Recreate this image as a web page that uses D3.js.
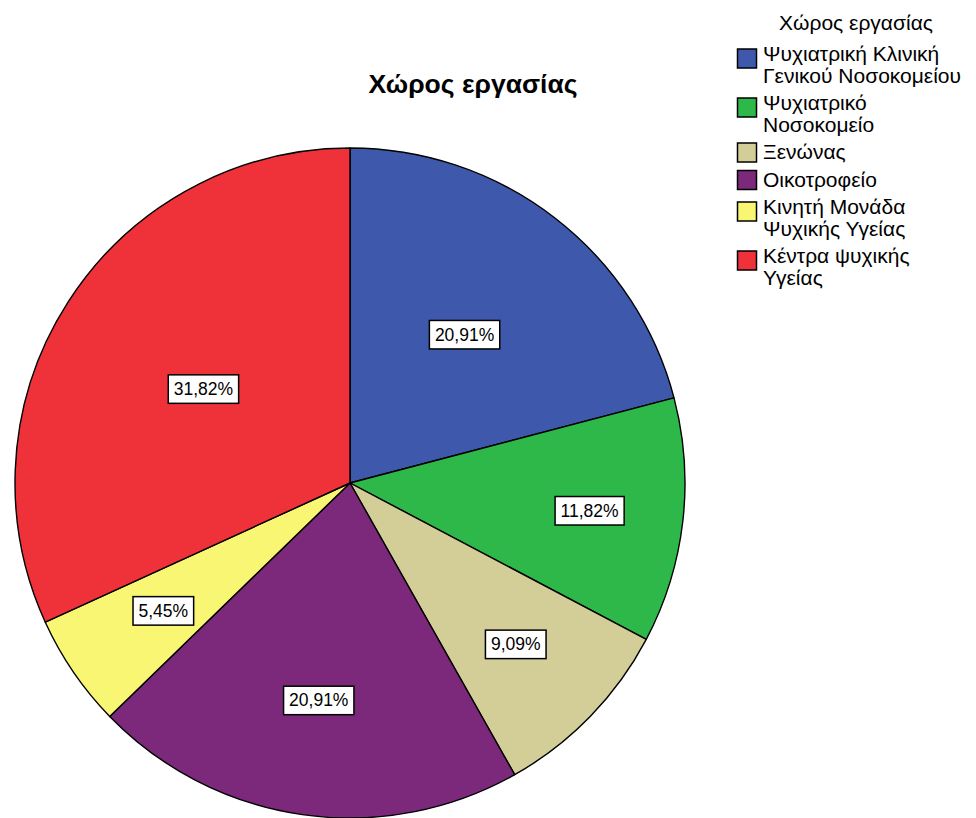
<!DOCTYPE html>
<html>
<head>
<meta charset="utf-8">
<script src="https://cdn.jsdelivr.net/npm/d3@7"></script>
<style>
  html, body { margin: 0; padding: 0; background: #ffffff; }
  svg { display: block; font-family: "Liberation Sans", Arial, sans-serif; }
</style>
</head>
<body>
<svg id="chart" width="976" height="818"></svg>
<script>
// Work setting categories and their share of respondents (%)
const categories = [
  ["Ψυχιατρική Κλινική", "Γενικού Νοσοκομείου"],
  ["Ψυχιατρικό", "Νοσοκομείο"],
  ["Ξενώνας"],
  ["Οικοτροφείο"],
  ["Κινητή Μονάδα", "Ψυχικής Υγείας"],
  ["Κέντρα ψυχικής", "Υγείας"]
];
const percents = [20.91, 11.82, 9.09, 20.91, 5.45, 31.82];
const colors = ["#3e59ac", "#2eb84a", "#d3ce97", "#7c297c", "#f9f673", "#ef3239"];

// How far out (fraction of radius) each value label sits along its slice
const labelRadius = [0.56, 0.72, 0.69, 0.655, 0.675, 0.52];

const title = "Χώρος εργασίας";
const legendTitle = "Χώρος εργασίας";

const svg = d3.select("#chart");
const cx = 350, cy = 483, R = 335;

const data = percents.map((v, i) => ({ value: v, name: categories[i], color: colors[i], lr: labelRadius[i] }));

const pie = d3.pie().sort(null).value(d => d.value).startAngle(0).endAngle(2 * Math.PI);
const arcs = pie(data);
const arc = d3.arc().innerRadius(0).outerRadius(R);

const g = svg.append("g").attr("transform", `translate(${cx},${cy})`);

g.selectAll("path.slice")
  .data(arcs)
  .join("path")
  .attr("class", "slice")
  .attr("d", arc)
  .attr("fill", d => d.data.color)
  .attr("stroke", "#000")
  .attr("stroke-width", 1.4)
  .attr("stroke-linejoin", "round");

// Value labels in white boxes
const fmt = v => v.toFixed(2).replace(".", ",") + "%";
const labels = g.selectAll("g.lbl")
  .data(arcs)
  .join("g")
  .attr("class", "lbl")
  .attr("transform", d => {
    const a = (d.startAngle + d.endAngle) / 2;
    const rr = R * d.data.lr;
    return `translate(${rr * Math.sin(a)},${-rr * Math.cos(a)})`;
  });

labels.each(function(d) {
  const sel = d3.select(this);
  const t = sel.append("text")
    .attr("text-anchor", "middle")
    .attr("dy", "0.35em")
    .attr("font-size", 17.5)
    .attr("fill", "#000")
    .text(fmt(d.data.value));
  const w = t.node().getComputedTextLength();
  sel.insert("rect", "text")
    .attr("x", -w / 2 - 5.5)
    .attr("y", -14)
    .attr("width", w + 11)
    .attr("height", 28.5)
    .attr("fill", "#fff")
    .attr("stroke", "#000")
    .attr("stroke-width", 1.5);
});

// Chart title
svg.append("text")
  .attr("x", 473)
  .attr("y", 93)
  .attr("text-anchor", "middle")
  .attr("font-size", 26.5)
  .attr("font-weight", "bold")
  .attr("fill", "#000")
  .text(title);

// Legend
const legend = svg.append("g").attr("class", "legend");
legend.append("text")
  .attr("x", 856)
  .attr("y", 30)
  .attr("text-anchor", "middle")
  .attr("font-size", 21)
  .attr("fill", "#000")
  .text(legendTitle);

const lineH = 21.5, itemGap = 27.5;
let base = 61;
data.forEach((d, i) => {
  const item = legend.append("g");
  item.append("rect")
    .attr("x", 737.5)
    .attr("y", base - 12 + (d.name.length > 1 ? 0 : -4))
    .attr("width", 19)
    .attr("height", 19)
    .attr("fill", d.color)
    .attr("stroke", "#000")
    .attr("stroke-width", 1.5);
  d.name.forEach((line, j) => {
    item.append("text")
      .attr("x", 763)
      .attr("y", base + j * lineH)
      .attr("font-size", 21)
      .attr("fill", "#000")
      .text(line);
  });
  base += (d.name.length - 1) * lineH + itemGap;
});
</script>
</body>
</html>
